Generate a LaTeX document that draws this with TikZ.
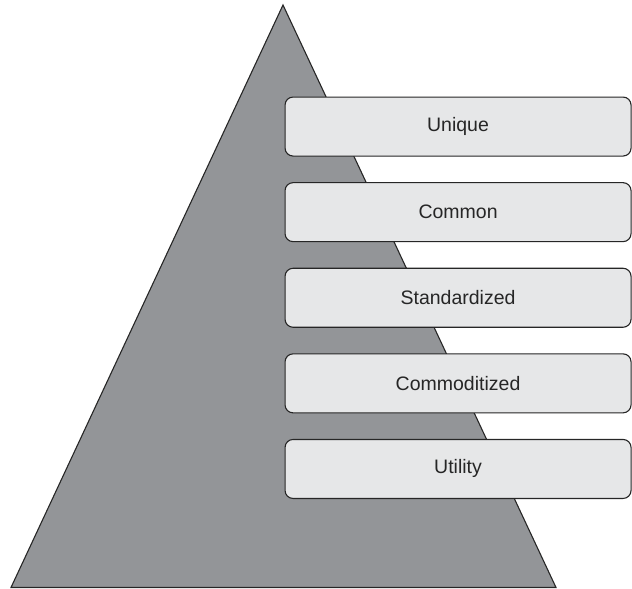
\documentclass[tikz,border=0pt]{standalone}
\usepackage{fontspec}
\setmainfont{Liberation Sans}
\usetikzlibrary{positioning}
\definecolor{pyrgray}{HTML}{939598}
\definecolor{boxgray}{HTML}{E6E7E8}

\begin{document}
\begin{tikzpicture}[x=1pt,y=-1pt,node distance=25.5pt,
  level/.style={draw=black!85,fill=boxgray,line width=1.1pt,rounded corners=8pt,
    minimum width=346pt,minimum height=59pt,inner sep=0pt,
    font=\fontsize{19.5}{23}\selectfont,text=black!85}]
 	\useasboundingbox (0,0) rectangle (632,589);
 
 	% pyramid
 	\coordinate (top) at (283,5);
 	\coordinate (bl) at (11,587.5);
 	\coordinate (br) at (556,587.5);
 	\draw[fill=pyrgray,draw=black!85,line width=1.1pt,line join=miter] (top) -- (br) -- (bl) -- cycle;
 
 	% levels
 	\node (unique)[level,anchor=north west] at (284.5,96.5) {Unique};
 	\node (common)[level,below=of unique] {Common};
 	\node (standard)[level,below=of common] {Standardized};
 	\node (commodity)[level,below=of standard] {Commoditized};
 	\node (utility)[level,below=of commodity] {Utility};
 	
 \end{tikzpicture}
\end{document}
